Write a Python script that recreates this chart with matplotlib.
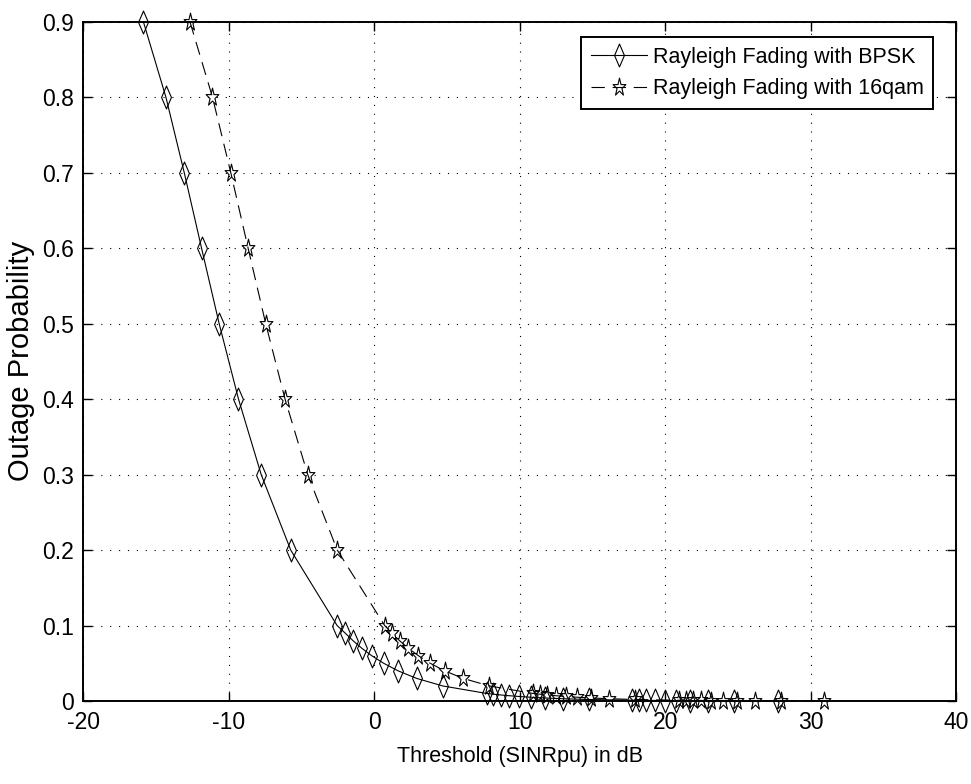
import numpy as np
import matplotlib
matplotlib.use('Agg')
import matplotlib.pyplot as plt
from matplotlib.path import Path
from matplotlib import font_manager

# outage probability levels and the threshold (dB) at which each is reached
prob = [0.9, 0.8, 0.7, 0.6, 0.5, 0.4, 0.3, 0.2, 0.1,
        0.09, 0.08, 0.07, 0.06, 0.05, 0.04, 0.03, 0.02, 0.01,
        0.009, 0.008, 0.007, 0.006, 0.005, 0.004, 0.003, 0.002, 0.001,
        0.0009, 0.0008, 0.0007, 0.0006, 0.0005, 0.0004, 0.0003, 0.0002, 0.0001]
thr_bpsk = [-15.87, -14.32, -13.06, -11.87, -10.66, -9.33, -7.77, -5.74, -2.55,
            -2.00, -1.46, -0.86, -0.17, 0.65, 1.64, 2.91, 4.70, 7.73,
            8.19, 8.70, 9.28, 9.96, 10.75, 11.72, 12.97, 14.74, 17.75,
            18.21, 18.72, 19.30, 19.97, 20.76, 21.73, 22.98, 24.74, 27.75]
thr_16qam = [-12.67, -11.12, -9.86, -8.67, -7.46, -6.13, -4.57, -2.54, 0.72,
             1.20, 1.74, 2.34, 3.04, 3.85, 4.84, 6.11, 7.90, 10.93,
             11.39, 11.90, 12.48, 13.16, 13.95, 14.92, 16.17, 17.94, 20.95,
             21.41, 21.92, 22.50, 23.17, 23.96, 24.93, 26.18, 27.94, 30.95]

x_ticks = [-20, -10, 0, 10, 20, 30, 40]
y_ticks = [0, 0.1, 0.2, 0.3, 0.4, 0.5, 0.6, 0.7, 0.8, 0.9]
y_tick_labels = ['0', '0.1', '0.2', '0.3', '0.4', '0.5', '0.6', '0.7', '0.8', '0.9']

installed = {f.name for f in font_manager.fontManager.ttflist}
if 'Liberation Sans Narrow' in installed:
    main_font, fs, tick_fs = 'Liberation Sans Narrow', 18.5, 19
else:
    main_font, fs, tick_fs = 'Liberation Sans', 15.5, 16.5

plt.rcParams['font.family'] = [main_font, 'DejaVu Sans']
plt.rcParams['axes.unicode_minus'] = False

# tall, thin marker shapes
diamond = Path([(0, 1), (0.43, 0), (0, -1), (-0.43, 0), (0, 1)],
               [Path.MOVETO, Path.LINETO, Path.LINETO, Path.LINETO, Path.CLOSEPOLY])
ang = np.deg2rad(90 + 36 * np.arange(10))
rad = np.where(np.arange(10) % 2 == 0, 1.0, 0.382)
star_pts = np.column_stack([0.72 * rad * np.cos(ang), rad * np.sin(ang)])
star_pts = np.vstack([star_pts, star_pts[:1]])
star = Path(star_pts, [Path.MOVETO] + [Path.LINETO] * 9 + [Path.CLOSEPOLY])

fig = plt.figure(figsize=(9.71, 7.84), dpi=100)
ax = fig.add_axes([83.3 / 971, 1 - 701 / 784, (956 - 83.3) / 971, (701 - 21.7) / 784])

ax.plot(thr_bpsk, prob, color='k', lw=0.8, marker=diamond, ms=16.5,
        mfc='none', mec='k', mew=0.8, clip_on=False,
        label='Rayleigh Fading with BPSK')
ax.plot(thr_16qam, prob, color='k', lw=0.8, ls=(0, (12, 7)), marker=star, ms=13.5,
        mfc='none', mec='k', mew=0.8, clip_on=False,
        label='Rayleigh Fading with 16qam')

ax.set_xlim(-20, 40)
ax.set_ylim(0, 0.9)
ax.set_xticks(x_ticks)
ax.set_yticks(y_ticks)
ax.set_yticklabels(y_tick_labels)
ax.set_axisbelow(True)
ax.grid(True, color='k', ls=(0, (1, 7)), lw=0.8)
ax.tick_params(direction='in', length=6.5, width=1.0, top=True, right=True,
               labelsize=tick_fs)
ax.tick_params(axis='y', pad=6.5)
ax.tick_params(axis='x', pad=7.5)
for sp in ax.spines.values():
    sp.set_linewidth(1.4)

ax.set_xlabel('Threshold (SINRpu) in dB', fontsize=fs, labelpad=8)
ax.set_ylabel('Outage Probability', fontsize=21, family=['Liberation Sans', 'DejaVu Sans'],
              labelpad=5)

leg = ax.legend(loc='upper left', bbox_to_anchor=(581 / 971, 1 - 37 / 784),
                bbox_transform=fig.transFigure, fancybox=False, framealpha=1,
                edgecolor='k', borderpad=0.45, handlelength=2.6, handletextpad=0.28,
                labelspacing=0.5, fontsize=fs, borderaxespad=0)
leg.get_frame().set_linewidth(1.4)

fig.savefig('out.png', dpi=100)
